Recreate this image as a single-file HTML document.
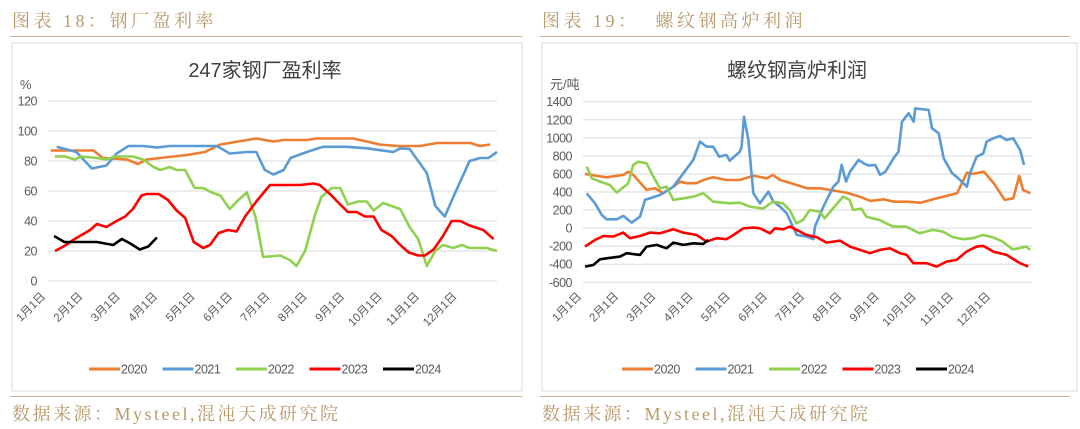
<!DOCTYPE html>
<html><head><meta charset="utf-8">
<style>
body{margin:0;width:1080px;height:429px;background:#fff;position:relative;overflow:hidden;font-family:"Liberation Sans","Noto Sans CJK SC",sans-serif;}
.hdr{position:absolute;top:7px;font-family:"Liberation Serif","Noto Serif CJK SC",serif;font-size:18px;color:#b8996a;letter-spacing:3.5px;}
.rule{position:absolute;height:1px;background:#c8b48c;}
.src{position:absolute;top:400px;font-family:"Liberation Serif","Noto Serif CJK SC",serif;font-size:18px;color:#b8996a;letter-spacing:2.5px;}
svg{position:absolute;top:0;left:0}
</style></head><body>
<div class="hdr" style="left:12px">图表 18：钢厂盈利率</div>
<div class="hdr" style="left:542px">图表 19：&nbsp;&nbsp;螺纹钢高炉利润</div>
<div class="rule" style="left:10px;width:512px;top:36px"></div>
<div class="rule" style="left:540px;width:530px;top:36px"></div>
<div class="rule" style="left:10px;width:512px;top:396px"></div>
<div class="rule" style="left:540px;width:530px;top:396px"></div>
<div class="src" style="left:12px">数据来源：Mysteel,混沌天成研究院</div>
<div class="src" style="left:542px">数据来源：Mysteel,混沌天成研究院</div>
<svg id="chart" width="1080" height="429"></svg>
<script>
// ---- Left chart data (x = week index, y = %) ----
const leftYTicks=[0,20,40,60,80,100,120];
const months=["1月1日","2月1日","3月1日","4月1日","5月1日","6月1日","7月1日","8月1日","9月1日","10月1日","11月1日","12月1日"];
const years=["2020","2021","2022","2023","2024"];
const colors=["#ed7d31","#5b9bd5","#8fd14f","#ff0000","#000000"];
const L20w=[0,5,6.1,8.9,10.2,11.2,15.9,18,19.8,24,26,27.2,29.9,31,35.3,36.9,38.4,40.4,43.1,45.1,49,50.1,51.3];
const L20v=[87,87,82,81,78,81,84,86,91,95,93,94,94,95,95,93,91,90,90,92,92,90,91];
const L21w=[0.7,3,4.8,6.5,7.7,9.1,10.8,12.4,13.9,19.4,20.9,22.9,24,25,26,27.2,28,29.9,31.8,34.6,36.9,40,40.8,41.9,43.9,44.9,46,47,48.9,50.1,51.1,52.1];
const L21v=[89.5,86,75,77,85,90,90,89,90,90,85,86,86,74,71,74,82,86,89.5,89.5,88.5,86,88.5,88,72,50,43,56,80,82,82,86];
const L22w=[0.5,1.7,2.8,3.6,5.4,6.5,7.5,9.6,10.8,12,12.8,13.9,14.7,15.7,16.8,17.8,18.8,19.8,20.9,21.9,22.9,23.9,24.8,26.8,27.9,28.7,29.7,30.9,31.6,32.8,33.8,34.7,35.9,36.9,37.7,38.8,40.8,41.9,42.9,43.9,44.9,45.8,47,48,48.9,50.1,50.9,52.1];
const L22v=[83,83,81,83,82,81,83,83,81,76,74,76,74,74,62,62,59,57,48,54,59,43,16,17,14,10,20,45,56,62,62,51,53,53,47,52,48,36,28,10,20,24,22,24,22,22,22,20];
const L23w=[0.5,1.5,2.8,4.6,5.4,6.5,7.7,8.7,9.6,10.6,11.2,12.6,13.7,14.7,15.7,16.7,17.8,18.6,19.6,20.7,21.7,22.7,24,25.6,27.5,29.1,30.7,31.4,32.6,33.8,34.7,35.7,36.7,37.7,38.6,39.8,40.8,41.8,42.9,43.7,44.7,45.8,46.8,47.8,48.9,50.5,51.7];
const L23v=[20,23,28,34,38,36,40,43,48,57,58,58,54,47,42,26,22,24,32,34,33,43,53,64,64,64,65,64,58,51,46,46,43,43,34,30,24,19,17,17,21,30,40,40,37,34,28];
const L24w=[0.4,1.6,2.5,5.4,7.3,8.3,9.3,10.4,11.4,12.4];
const L24v=[30,26,26,26,24,28,25,21,23,29];
// ---- Right chart data (x = day of year, y = 元/吨) ----
const rightYTicks=[-600,-400,-200,0,200,400,600,800,1000,1200,1400];
const R20d=[0,9.6,17.8,31.4,35.5,39.6,50.5,57.4,64.2,72.4,77.9,83.3,91.5,97,105,116,127,138,149,154,160,171,182,193,204,214,225,234,245,253,264,275,286,294,305,313,318,327,335,344,351,356,359,365];
const R20v=[600,578,563,589,625,589,423,441,386,459,515,497,497,533,563,533,533,581,552,589,533,489,441,441,415,393,349,301,319,293,293,282,323,349,386,614,600,625,497,312,330,578,423,386];
const R21d=[1.4,8.2,13.7,17.8,26,31.4,38.3,45.1,49.2,53.3,61.5,72.4,80.6,88.8,94.3,99.7,105,110,115.8,118.6,127,128.4,130.3,133.9,138,143.4,150.3,154.4,159.8,165.3,173.5,181.7,187.2,188.5,195.4,200.8,203.6,207.7,210.4,213.9,217.2,224.3,228.4,232.5,237.9,242,246.2,252.9,257,259.8,265.3,269.4,270.7,281.7,284.4,289.9,294,301,306,313,315.6,321,326.5,329.2,334.7,340.2,345.6,351,356.6,359.8];
const R21v=[385,275,146,98,98,135,61,127,312,330,367,459,607,755,958,902,902,791,810,747,847,902,1234,976,385,275,404,293,238,164,-74,-94,-123,17,238,385,459,515,700,515,625,755,718,692,700,589,625,773,847,1179,1271,1179,1326,1308,1105,1050,773,607,552,459,607,791,828,958,995,1020,976,995,865,700];
const R22d=[1.4,5.5,12.3,20.5,26,35.5,39.6,43.7,50.5,56,61.5,66.9,72.4,80.6,88.8,97,105,118.6,126.8,135,145.9,154,162.3,167.8,173.2,178.7,184.2,192.3,196.4,211.5,217,219.7,226.5,230.6,241.5,252.5,263.4,274.3,285.2,293.4,301.6,309.8,318,326,334.2,342.3,350.5,356,361.5,365];
const R22v=[681,552,515,478,393,497,700,736,718,570,441,459,312,330,349,386,293,275,282,238,216,293,275,201,53,90,201,183,109,349,312,201,216,127,90,17,17,-57,-20,-39,-101,-123,-112,-76,-101,-149,-234,-223,-204,-241];
const R23d=[0,8.2,15,23.2,31.4,36.9,45.1,53.3,61.5,72.4,80.6,91.5,99.7,107.9,116,121.6,129.8,138,143.4,151.6,155.7,162.5,168,173.5,181.7,189.9,198,209,217.2,225.4,233.6,241.8,250,258.2,263.7,269.1,280,288.3,296.4,304.6,312.8,321,326.5,334.7,345.6,356.6,363.4];
const R23v=[-205,-131,-87,-94,-50,-112,-87,-50,-57,-13,-50,-76,-149,-112,-123,-76,-2,6,-2,-57,-2,-13,17,-20,-76,-101,-160,-138,-205,-241,-278,-241,-223,-278,-297,-389,-389,-426,-371,-352,-260,-205,-197,-260,-297,-389,-426];
const R24d=[0,6.8,12.3,17.8,28.7,34.2,45.1,50.5,58.7,66.9,72.4,80.6,88.8,97,101.1];
const R24v=[-426,-408,-345,-334,-315,-278,-297,-205,-186,-223,-160,-186,-168,-175,-131];

const svg=document.getElementById('chart');
const NS='http://www.w3.org/2000/svg';
function mk(tag,attrs,parent){const e=document.createElementNS(NS,tag);for(const k in attrs)e.setAttribute(k,attrs[k]);(parent||svg).appendChild(e);return e;}

function panel(cfg){
  const g=mk('g',{});
  
  
  const box=mk('rect',{x:cfg.bx,y:43,width:cfg.bw,height:348,fill:'#fff',stroke:'#d9d9d9','stroke-width':1},g);
  
  
  const t=mk('text',{x:cfg.tx,y:77,'text-anchor':'middle','font-size':20,fill:'#404040'},g);
  t.textContent=cfg.title;
  
  
  const u=mk('text',{x:cfg.ux,y:89,'font-size':13,fill:'#595959'},g);
  u.textContent=cfg.unit;
  
  
  cfg.yTicks.forEach(v=>{
    const y=cfg.ys(v);
    const l=mk('line',{x1:cfg.gx0,x2:cfg.gx1,y1:y,y2:y,stroke:'#d9d9d9','stroke-width':1},g);
    
    
    const tl=mk('text',{x:cfg.lx,y:y+4.5,'text-anchor':'end','font-size':12.5,fill:'#595959','letter-spacing':'-0.5'},g);
    tl.textContent=v;
    
    
  });
  months.forEach((m,i)=>{
    const x=cfg.mx0+i*cfg.mstep, y=cfg.my;
    const tl=mk('text',{x:x,y:y,'text-anchor':'end','font-size':11.5,fill:'#595959',transform:`rotate(-45 ${x} ${y})`},g);
    tl.textContent=m;
    
    
  });
  cfg.series.forEach((s,i)=>{
    const pts=s[0].map((d,j)=>cfg.xs(d).toFixed(1)+','+cfg.ys(s[1][j]).toFixed(1)).join(' ');
    const p=mk('polyline',{points:pts,fill:'none',stroke:colors[i],'stroke-width':2.6,'stroke-linejoin':'round'},g);
    
    
  });
  years.forEach((yv,i)=>{
    const x=cfg.legx+i*73.5;
    const lg=mk('g',{},g);
    
    
    mk('line',{x1:x,x2:x+31,y1:369,y2:369,stroke:colors[i],'stroke-width':3},lg);
    const lt=mk('text',{x:x+32,y:373.5,'font-size':12.5,fill:'#595959','letter-spacing':'-0.5'},lg);
    lt.textContent=yv;
  });
}
panel({name:'left-chart-steel-mill-profit-rate',bx:12,bw:510,tx:265,title:'247家钢厂盈利率',ux:20,unit:'%',
  yTicks:leftYTicks,ys:v=>281-v*1.5,xs:w=>50.67+8.567*w,gx0:48,gx1:497,lx:37,
  mx0:46,mstep:37.4,my:297,legx:89,
  series:[[L20w,L20v],[L21w,L21v],[L22w,L22v],[L23w,L23v],[L24w,L24v]]});
panel({name:'right-chart-rebar-blast-furnace-profit',bx:542,bw:535,tx:797,title:'螺纹钢高炉利润',ux:550,unit:'元/吨',
  yTicks:rightYTicks,ys:v=>101.7+(1400-v)*0.0903,xs:d=>585+1.22*d,gx0:583,gx1:1032,lx:572,
  mx0:582,mstep:37.2,my:297,legx:622,
  series:[[R20d,R20v],[R21d,R21v],[R22d,R22v],[R23d,R23v],[R24d,R24v]]});
</script>
</body></html>
